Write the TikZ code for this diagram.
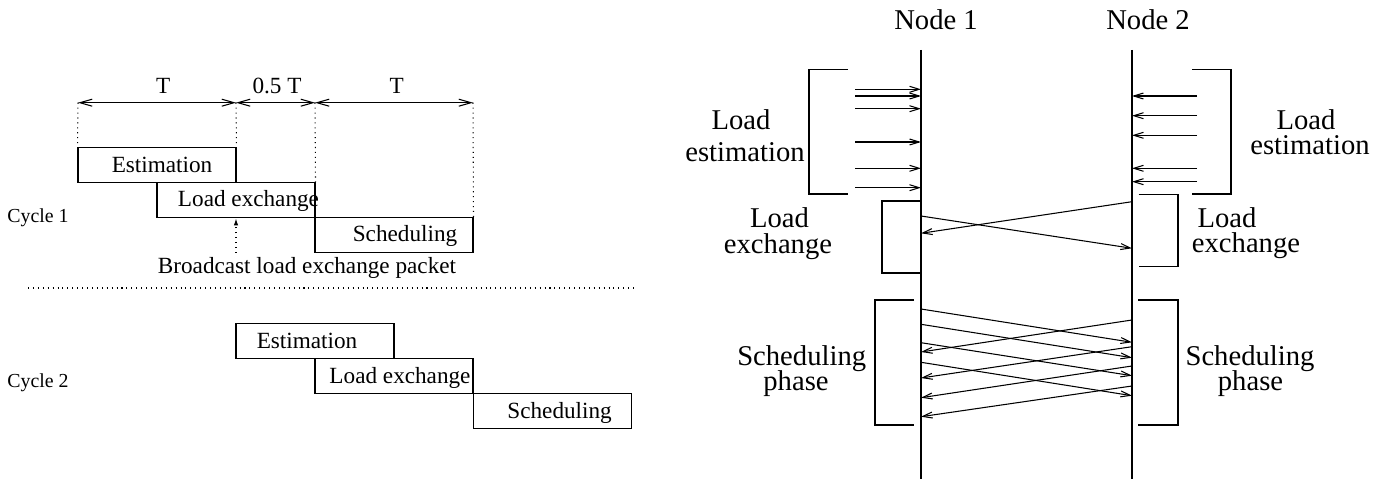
\documentclass[tikz,border=0pt]{standalone}
\usepackage{fontspec}
\setmainfont{Liberation Serif}
\usetikzlibrary{arrows.meta}
\tikzset{
    phasebox/.style={
           rectangle,
           draw=black, line width=0.6pt,
           minimum width=3.16cm,
           minimum height=0.706cm,
           inner sep=0pt
           },
    biglabel/.style={anchor=base, inner sep=0pt, font=\fontsize{16.3}{14.6}\selectfont},
    smalllabel/.style={anchor=base, inner sep=0pt, font=\fontsize{13.2}{15}\selectfont},
    cyclelabel/.style={anchor=base west, inner sep=0pt, font=\fontsize{11.3}{13}\selectfont},
    msg/.style={line width=0.6pt, -{Straight Barb[length=5.5pt,width=3.4pt]}},
    dimarrow/.style={line width=0.6pt,
           {Straight Barb[length=7pt,width=4pt]}-{Straight Barb[length=7pt,width=4pt]}},
    dotline/.style={line width=0.6pt, dash pattern=on 0.6pt off 2.2pt},
}

\begin{document}
\begin{tikzpicture}[x=0.02cm,y=-0.02cm]
\useasboundingbox (0,0) rectangle (1386,479);

% Cycle 1
\node[phasebox] (EST1) at (157,165) {};
\node[phasebox] (LEX1) at (236,200.3) {};
\node[phasebox] (SCH1) at (394,235.3) {};
\node[smalllabel] (EST1T) at (162,172.3) {Estimation};
\node[smalllabel] (LEX1T) at (248.5,206.7) {Load exchange};
\node[smalllabel] (SCH1T) at (405,241.7) {Scheduling};
\node[cyclelabel] (CYC1) at (7,222.3) {Cycle 1};

% time spans
\coordinate (D0) at (78,102.7);
\coordinate (D1) at (236,102.7);
\coordinate (D2) at (315,102.7);
\coordinate (D3) at (473,102.7);
\node[smalllabel] (T1) at (163.3,93.3) {T};
\node[smalllabel] (T2) at (277,93.3) {0.5 T};
\node[smalllabel] (T3) at (396.7,93.3) {T};
\draw[dimarrow] (D0) -- (D1);
\draw[dimarrow] (D1) -- (D2);
\draw[dimarrow] (D2) -- (D3);
\draw[dotline] (D0) -- (EST1.north west);
\draw[dotline] (D1) -- (EST1.north east);
\draw[dotline] (D2) -- (LEX1.north east);
\draw[dotline] (D3) -- (SCH1.north east);

% broadcast
\coordinate (BC) at (236,253);
\draw[dotline,-{Latex[length=4pt,width=2.6pt]}] (BC) -- (BC |- LEX1.south);
\node[smalllabel] (BCT) at (307,273.3) {Broadcast load exchange packet};
\coordinate (SEPL) at (28,288);
\coordinate (SEPR) at (635,288);
\draw[dotline] (SEPL) -- (SEPR);

% Cycle 2
\node[phasebox] (EST2) at (315,341) {};
\node[phasebox] (LEX2) at (394,376.2) {};
\node[phasebox] (SCH2) at (552.3,411.2) {};
\node[smalllabel] (EST2T) at (307,348.5) {Estimation};
\node[smalllabel] (LEX2T) at (400,383.5) {Load exchange};
\node[smalllabel] (SCH2T) at (559.6,418.2) {Scheduling};
\node[cyclelabel] (CYC2) at (7,388) {Cycle 2};

% the two nodes
\node[biglabel] (NODE1) at (936,30) {Node 1};
\node[biglabel] (NODE2) at (1148,30) {Node 2};
\coordinate (N1TOP) at (921,50);
\coordinate (N1BOT) at (921,479);
\coordinate (N2TOP) at (1132,50);
\coordinate (N2BOT) at (1132,479);
\draw[line width=0.7pt] (N1TOP) -- (N1BOT);
\draw[line width=0.7pt] (N2TOP) -- (N2BOT);

% brackets
\draw[line width=0.6pt] (848,69.3) -| (809,194) -- (848,194);
\draw[line width=0.6pt] (1192,69.3) -| (1231,194) -- (1192,194);
\draw[line width=0.6pt] (921,201) -| (882,273) -- (921,273);
\draw[line width=0.6pt] (1138.5,194.3) -| (1178,266.7) -- (1138.5,266.7);
\draw[line width=0.6pt] (914,300) -| (875,425) -- (914,425);
\draw[line width=0.6pt] (1138,300) -| (1178,425) -- (1138,425);

\node[biglabel] (LESTL1) at (741,129.3) {Load};
\node[biglabel] (LESTL2) at (745,161.7) {estimation};
\node[biglabel] (LESTR1) at (1306,129.3) {Load};
\node[biglabel] (LESTR2) at (1310,155) {estimation};
\node[biglabel] (LEXL1) at (779.5,227.7) {Load};
\node[biglabel] (LEXL2) at (778,253.3) {exchange};
\node[biglabel] (LEXR1) at (1227,228) {Load};
\node[biglabel] (LEXR2) at (1246,253) {exchange};
\node[biglabel] (SCHL1) at (801.7,366) {Scheduling};
\node[biglabel] (SCHL2) at (796,391) {phase};
\node[biglabel] (SCHR1) at (1250,366) {Scheduling};
\node[biglabel] (SCHR2) at (1250.5,391) {phase};

% load estimation messages
\foreach \y [count=\i] in {89.3,96,108.7,142,168.3,187.7} {
  \coordinate (EA\i) at (855,\y);
  \draw[msg] (EA\i) -- (EA\i -| N1TOP);
}
\foreach \y [count=\i] in {96,115.7,135.3,168.3,181.7} {
  \coordinate (EB\i) at (1197,\y);
  \draw[msg] (EB\i) -- (EB\i -| N2TOP);
}

% load exchange messages
\coordinate (XA1) at (921,216);
\coordinate (XA2) at (1132,248.3);
\coordinate (XB1) at (1132,201.7);
\coordinate (XB2) at (921,233.3);
\draw[msg] (XA1) -- (XA2);
\draw[msg] (XB1) -- (XB2);

% scheduling messages
\foreach \ya/\yb [count=\i] in {309/342.3,324.3/357.7,342.7/375.7,362.3/395.7} {
  \coordinate (SA\i) at (921,\ya);
  \coordinate (SB\i) at (1132,\yb);
  \draw[msg] (SA\i) -- (SB\i);
}
\foreach \ya/\yb [count=\i] in {320/352,346.7/378,366/397.7,386/416.7} {
  \coordinate (SC\i) at (1132,\ya);
  \coordinate (SD\i) at (921,\yb);
  \draw[msg] (SC\i) -- (SD\i);
}

\end{tikzpicture}
\end{document}
